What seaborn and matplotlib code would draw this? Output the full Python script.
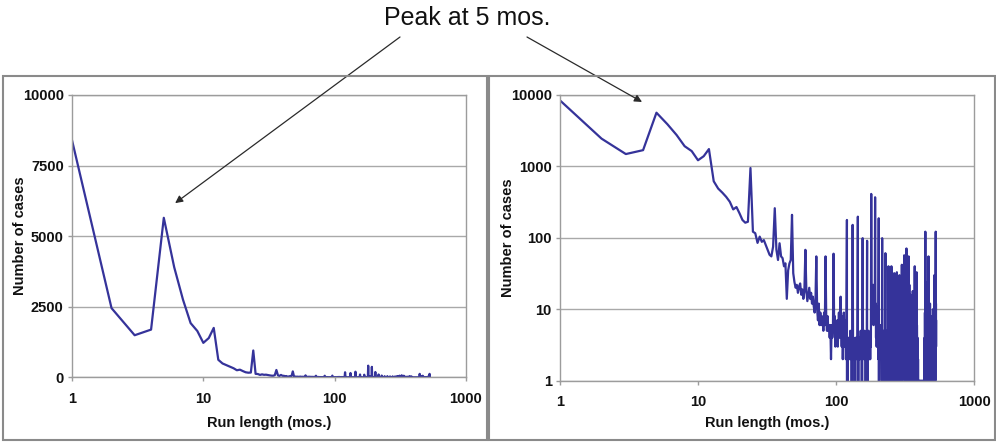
import numpy as np
import pandas as pd
import matplotlib
matplotlib.use("Agg")
import matplotlib.pyplot as plt
import seaborn as sns
from matplotlib.patches import Rectangle
from matplotlib.ticker import NullLocator

# Number of cases for each run length, one row per year of run length (months 1..532)
cases = [
    8400, 2450, 1490, 1690, 5650, 3900, 2750, 1920, 1640, 1220, 1390, 1750,
    620, 490, 430, 375, 320, 250, 270, 220, 178, 163, 168, 950,
    122, 116, 85, 104, 88, 93, 79, 68, 58, 55, 75, 260,
    68, 49, 84, 55, 52, 40, 44, 14, 35, 44, 49, 210,
    32, 24, 20, 22, 17, 21, 23, 16, 19, 14, 18, 68,
    18, 13, 16, 20, 14, 17, 12, 15, 11, 9, 13, 55,
    10, 7, 12, 6, 9, 6, 8, 7, 5, 9, 6, 55,
    7, 5, 8, 5, 6, 4, 6, 2, 6, 4, 5, 60,
    5, 8, 3, 6, 4, 7, 3, 5, 9, 4, 6, 15,
    6, 3, 8, 2, 5, 9, 3, 4, 7, 2, 5, 178,
    0, 3, 2, 4, 3, 2, 5, 3, 3, 0, 2, 152,
    2, 4, 3, 3, 0, 2, 4, 3, 3, 2, 2, 198,
    0, 3, 4, 2, 4, 3, 5, 2, 3, 0, 4, 99,
    2, 4, 3, 3, 5, 2, 4, 0, 3, 4, 2, 91,
    0, 4, 2, 5, 3, 3, 2, 4, 2, 4, 3, 412,
    15, 20, 8, 18, 12, 22, 6, 14, 10, 19, 9, 370,
    8, 12, 4, 10, 3, 7, 11, 3, 6, 9, 2, 188,
    0, 4, 2, 5, 3, 3, 6, 2, 2, 4, 1, 99,
    2, 3, 0, 5, 2, 3, 4, 2, 3, 0, 2, 61,
    0, 4, 2, 3, 2, 5, 2, 0, 3, 2, 4, 40,
    2, 0, 3, 5, 2, 2, 4, 3, 1, 3, 0, 40,
    2, 5, 3, 3, 0, 4, 2, 2, 6, 3, 3, 32,
    0, 4, 2, 8, 3, 5, 2, 3, 6, 2, 4, 33,
    3, 10, 0, 6, 2, 12, 4, 3, 8, 3, 5, 30,
    0, 8, 3, 15, 2, 10, 4, 6, 18, 2, 9, 42,
    1, 12, 4, 20, 3, 9, 14, 5, 25, 6, 11, 57,
    3, 18, 0, 22, 8, 30, 5, 15, 4, 26, 10, 71,
    4, 20, 0, 28, 12, 6, 35, 5, 18, 9, 24, 55,
    0, 15, 6, 22, 3, 12, 8, 3, 16, 4, 10, 15,
    5, 12, 0, 15, 8, 3, 10, 4, 6, 14, 2, 18,
    0, 9, 4, 12, 3, 6, 14, 2, 8, 0, 5, 40,
    3, 10, 0, 7, 12, 2, 5, 3, 9, 4, 1, 33,
    0, 6, 2, 0, 4, 0, 1, 0, 2, 0, 1, 1,
    1, 1, 1, 1, 1, 1, 1, 1, 1, 1, 1, 1,
    1, 1, 1, 1, 1, 1, 1, 1, 1, 1, 1, 1,
    1, 1, 1, 1, 1, 1, 1, 1, 1, 1, 1, 1,
    1, 1, 1, 1, 1, 1, 4, 1, 9, 2, 6, 122,
    6, 23, 2, 14, 0, 9, 18, 1, 7, 12, 3, 24,
    10, 2, 16, 5, 0, 11, 7, 1, 13, 4, 8, 55,
    2, 9, 0, 6, 12, 1, 4, 0, 8, 2, 5, 12,
    0, 3, 1, 5, 0, 2, 6, 0, 1, 4, 0, 8,
    1, 0, 3, 0, 2, 5, 0, 1, 4, 0, 2, 10,
    0, 3, 1, 6, 0, 2, 8, 1, 3, 0, 5, 30,
    2, 9, 1, 14, 4, 22, 3, 10, 1, 7, 16, 122,
    5, 12, 3, 7,
]
months = list(range(1, len(cases) + 1))

x_ticks = [1, 10, 100, 1000]
x_tick_labels = ["1", "10", "100", "1000"]
lin_ticks = [0, 2500, 5000, 7500, 10000]
lin_tick_labels = ["0", "2500", "5000", "7500", "10000"]
log_ticks = [1, 10, 100, 1000, 10000]
log_tick_labels = ["1", "10", "100", "1000", "10000"]

x_title = "Run length (mos.)"
y_title = "Number of cases"
callout = "Peak at 5 mos."

df = pd.DataFrame({"month": months, "cases": cases})

sns.set_style("white")
plt.rcParams["font.family"] = ["Liberation Sans", "DejaVu Sans"]

W, H = 996, 443
fig = plt.figure(figsize=(W / 100, H / 100), dpi=100)
fig.patch.set_facecolor("white")


def fx(px):
    return px / W


def fy(py):
    return 1 - py / H


ax1 = fig.add_axes([fx(72), fy(377.3), fx(466) - fx(72), fy(95) - fy(377.3)])
ax2 = fig.add_axes([fx(560), fy(380.7), fx(974) - fx(560), fy(95) - fy(380.7)])

line_color = "#35339a"
edge = "#9c9c9c"
grid = "#a9a9a9"

for ax in (ax1, ax2):
    sns.lineplot(data=df, x="month", y="cases", ax=ax, color=line_color,
                 lw=1.6, estimator=None, sort=True)
    ax.set_xscale("log")

ax2.set_yscale("log")

ax1.set_ylim(0, 10000)
ax2.set_ylim(1, 10000)

for ax, yt, ytl, xlab_y in ((ax1, lin_ticks, lin_tick_labels, -0.162),
                            (ax2, log_ticks, log_tick_labels, -0.149)):
    ax.set_xlim(1, 1000)
    ax.set_xticks(x_ticks, labels=x_tick_labels, fontweight="bold", fontsize=10.5)
    ax.set_yticks(yt, labels=ytl, fontweight="bold", fontsize=10.5)
    ax.xaxis.set_minor_locator(NullLocator())
    ax.yaxis.set_minor_locator(NullLocator())
    ax.tick_params(axis="both", which="major", direction="out", length=3,
                   width=1, color=edge, bottom=True, left=True,
                   labelcolor="#111111")
    ax.tick_params(axis="x", pad=7.5)
    ax.tick_params(axis="y", pad=3)
    ax.set_xlabel(x_title, fontweight="bold", fontsize=10.5, va="center",
                  color="#111111")
    ax.set_ylabel(y_title, fontweight="bold", fontsize=10.5, va="center",
                  ha="center", color="#111111")
    ax.xaxis.set_label_coords(0.5, xlab_y)
    ax.yaxis.grid(True, color=grid, lw=1)
    ax.xaxis.grid(False)
    ax.set_axisbelow(True)
    for s in ax.spines.values():
        s.set_visible(True)
        s.set_color(edge)
        s.set_linewidth(1)
    ax.set_facecolor("white")

ax1.yaxis.set_label_coords(-0.132, 0.5)
ax2.yaxis.set_label_coords(-0.1256, 0.5)

# Panel frames
for x0, x1 in ((3, 487), (489, 995)):
    fig.patches.append(Rectangle((fx(x0), fy(440)), fx(x1) - fx(x0), fy(76) - fy(440),
                                 transform=fig.transFigure, fill=False,
                                 ec="#8a8a8a", lw=1.5))

# Callout text with arrows to the 5-month peak in each panel
fig.text(fx(467.5), fy(25), callout, ha="center", va="baseline", fontsize=18,
         color="#111111")
arrow = dict(arrowstyle="-|>", color="#2a2a2a", lw=0.9, mutation_scale=11,
             shrinkA=0, shrinkB=0)
ax1.annotate("", xy=(6.1, 6170), xycoords="data",
             xytext=(fx(400), fy(37)), textcoords="figure fraction",
             arrowprops=arrow)
ax2.annotate("", xy=(3.93, 8000), xycoords="data",
             xytext=(fx(527), fy(37)), textcoords="figure fraction",
             arrowprops=arrow)

fig.savefig("out.png", dpi=100, facecolor="white")
